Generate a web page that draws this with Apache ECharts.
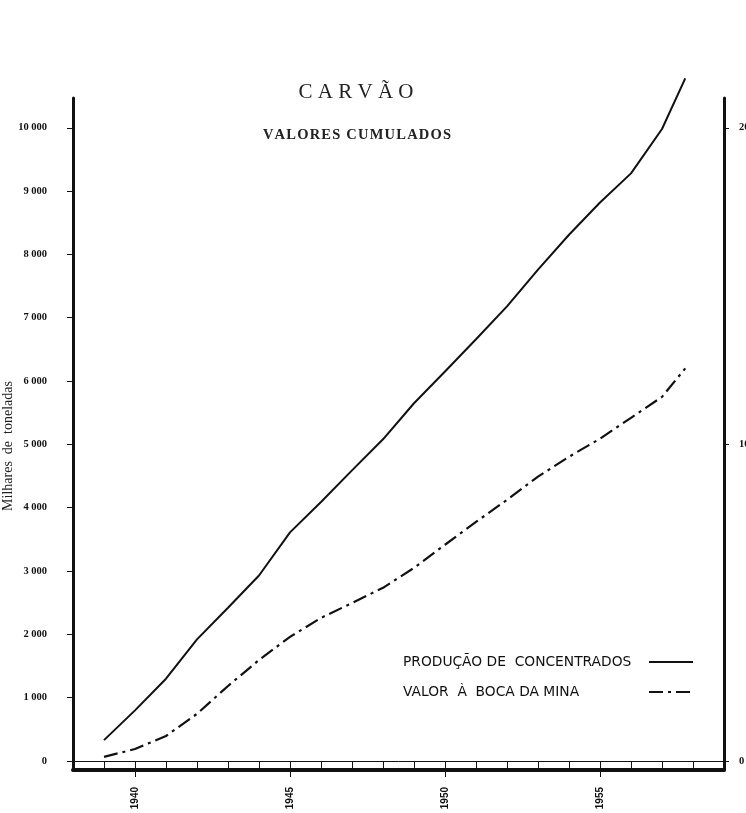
<!DOCTYPE html>
<html>
<head>
<meta charset="utf-8">
<script src="https://cdn.jsdelivr.net/npm/echarts@6/dist/echarts.min.js"></script>
<style>
  html, body { margin: 0; padding: 0; background: #fff; }
  #chart { width: 746px; height: 813px; }
</style>
</head>
<body>
<div id="chart"></div>
<script>
// anos (o último ponto é um pouco antes de 1958)
const years = [1939, 1940, 1941, 1942, 1943, 1944, 1945, 1946, 1947, 1948,
  1949, 1950, 1951, 1952, 1953, 1954, 1955, 1956, 1957, 1957.75];

// produção de concentrados, milhares de toneladas (eixo esquerdo)
const producao = [330, 800, 1300, 1920, 2420, 2930, 3610, 4090, 4590, 5080,
  5650, 6150, 6660, 7180, 7760, 8310, 8820, 9280, 9980, 10780];

// valor à boca da mina (eixo direito)
const valor = [0.13, 0.38, 0.79, 1.49, 2.37, 3.19, 3.92, 4.52, 4.99, 5.47,
  6.10, 6.83, 7.55, 8.25, 8.98, 9.61, 10.18, 10.84, 11.50, 12.40];

const leftTicks = [0, 1000, 2000, 3000, 4000, 5000, 6000, 7000, 8000, 9000, 10000];
const rightTicks = [0, 10, 20];
const yearTicks = [1939, 1940, 1941, 1942, 1943, 1944, 1945, 1946, 1947, 1948,
  1949, 1950, 1951, 1952, 1953, 1954, 1955, 1956, 1957, 1958];
const yearLabels = [1940, 1945, 1950, 1955];

const nomeProducao = 'PRODUÇÃO DE  CONCENTRADOS';
const nomeValor = 'VALOR  À  BOCA DA MINA';

const ink = '#111';

const chart = echarts.init(document.getElementById('chart'));

const fmtMilhar = v => String(v).replace(/\B(?=(\d{3})+(?!\d))/g, ' ');

const option = {
  animation: false,
  backgroundColor: '#fff',
  title: [
    {
      text: 'CARVÃO'.split('').join(' '),
      left: 351,
      top: 77,
      textAlign: 'center',
      textStyle: { fontFamily: 'Liberation Serif', fontSize: 21, fontWeight: 'normal', color: '#222' }
    },
    {
      text: 'VALORES CUMULADOS'.split('').join('\u200A'),
      left: 352,
      top: 123,
      textAlign: 'center',
      textStyle: { fontFamily: 'Liberation Serif', fontSize: 14.5, fontWeight: 'bold', color: '#222' }
    }
  ],
  legend: {
    orient: 'vertical',
    left: 403,
    top: 655,
    padding: 0,
    align: 'right',
    itemWidth: 44,
    itemHeight: 14,
    itemGap: 16,
    data: [nomeProducao, nomeValor],
    itemStyle: { opacity: 0 },
    formatter: name => '{t|' + name + '}',
    textStyle: {
      color: ink,
      rich: {
        t: { fontFamily: 'DejaVu Sans', fontSize: 13.8, color: ink, width: 241, align: 'left' }
      }
    }
  },
  grid: { left: 73, right: 22, top: 98, bottom: 43, containLabel: false, outerBoundsMode: 'none' },
  xAxis: [
    {
      type: 'value',
      min: 1938,
      max: 1959,
      position: 'bottom',
      axisLine: { onZero: true, lineStyle: { color: ink, width: 1 } },
      axisTick: { customValues: yearTicks, length: 9, lineStyle: { color: ink, width: 1 } },
      axisLabel: { show: false },
      splitLine: { show: false }
    },
    {
      type: 'value',
      min: 1938,
      max: 1959,
      position: 'bottom',
      axisLine: { onZero: false, lineStyle: { color: ink, width: 4 } },
      axisTick: { customValues: yearLabels, length: 7, lineStyle: { color: ink, width: 1 } },
      axisLabel: {
        customValues: yearLabels,
        formatter: v => String(v),
        rotate: 90,
        margin: 17,
        fontFamily: 'Liberation Sans',
        fontWeight: 'bold',
        fontSize: 10,
        color: ink
      },
      splitLine: { show: false }
    }
  ],
  yAxis: [
    {
      type: 'value',
      min: -142,
      max: 10470,
      position: 'left',
      name: 'Milhares  de  toneladas',
      nameLocation: 'middle',
      nameGap: 58,
      nameMoveOverlap: false,
      nameTextStyle: { fontFamily: 'Liberation Serif', fontSize: 14, color: '#222', padding: [0, 24, 0, 0] },
      axisLine: { show: true, onZero: false, lineStyle: { color: ink, width: 3 } },
      axisTick: { show: true, customValues: leftTicks, length: 6, lineStyle: { color: ink, width: 1 } },
      axisLabel: {
        customValues: leftTicks,
        formatter: fmtMilhar,
        margin: 26,
        fontFamily: 'Liberation Serif',
        fontWeight: 'bold',
        fontSize: 10.5,
        color: ink
      },
      splitLine: { show: false }
    },
    {
      type: 'value',
      min: -0.284,
      max: 20.94,
      position: 'right',
      axisLine: { show: true, onZero: false, lineStyle: { color: ink, width: 3 } },
      axisTick: { show: true, customValues: rightTicks, length: 5, lineStyle: { color: ink, width: 1 } },
      axisLabel: {
        customValues: rightTicks,
        margin: 15,
        fontFamily: 'Liberation Serif',
        fontWeight: 'bold',
        fontSize: 10.5,
        color: ink
      },
      splitLine: { show: false }
    }
  ],
  series: [
    {
      name: nomeProducao,
      type: 'line',
      xAxisIndex: 0,
      yAxisIndex: 0,
      data: years.map((y, i) => [y, producao[i]]),
      symbol: 'none',
      clip: false,
      itemStyle: { color: ink },
      lineStyle: { color: ink, width: 2 }
    },
    {
      name: nomeValor,
      type: 'line',
      xAxisIndex: 0,
      yAxisIndex: 1,
      data: years.map((y, i) => [y, valor[i]]),
      symbol: 'none',
      clip: false,
      itemStyle: { color: ink },
      lineStyle: { color: ink, width: 2.2, type: [14, 5, 3, 5] }
    }
  ]
};

chart.setOption(option);
</script>
</body>
</html>
